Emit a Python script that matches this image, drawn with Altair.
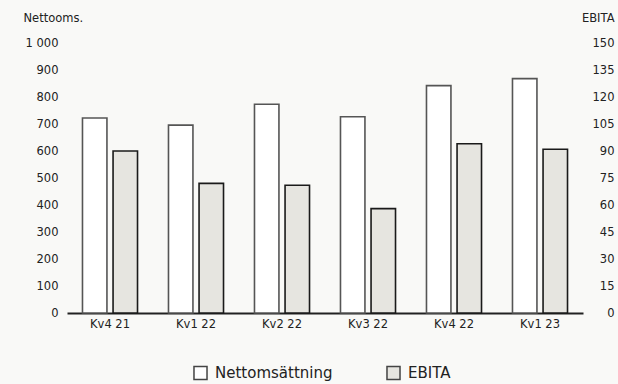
import altair as alt
import pandas as pd

# Quarterly net sales (left axis, MSEK) and EBITA (right axis, MSEK)
quarters = ["Kv4 21", "Kv1 22", "Kv2 22", "Kv3 22", "Kv4 22", "Kv1 23"]
net_sales = [722, 696, 773, 727, 842, 868]
ebita = [90, 72, 71, 58, 94, 91]
series = ["Nettomsättning", "EBITA"]

net_ticks = list(range(0, 1001, 100))
ebita_ticks = list(range(0, 151, 15))

net_df = pd.DataFrame({"quarter": quarters, "value": net_sales, "series": series[0]})
ebita_df = pd.DataFrame({"quarter": quarters, "value": ebita, "series": series[1]})

FONT = "DejaVu Sans"
INK = "#222222"
TICK_SIZE = 11.5

x_enc = alt.X(
    "quarter:N",
    sort=quarters,
    scale=alt.Scale(paddingInner=0.36, paddingOuter=0.18),
    axis=alt.Axis(
        title=None, labelAngle=0, ticks=False, domainColor=INK, domainWidth=2,
        labelFontSize=TICK_SIZE, labelColor=INK, labelPadding=5, labelFont=FONT,
    ),
)
xoff_enc = alt.XOffset(
    "series:N", sort=series,
    scale=alt.Scale(domain=series, paddingInner=0.2, paddingOuter=0),
)
fill_enc = alt.Fill(
    "series:N",
    sort=series,
    scale=alt.Scale(domain=series, range=["#ffffff", "#e6e5e0"]),
    legend=alt.Legend(
        title=None, orient="none", direction="horizontal", legendX=126, legendY=322,
        symbolType="square", symbolSize=170, symbolStrokeColor="#444444",
        symbolStrokeWidth=1.5, labelFontSize=15, labelFont=FONT, labelColor=INK,
        labelOffset=7, columnPadding=50,
    ),
)

net_bars = alt.Chart(net_df).mark_bar(stroke="#555555", strokeWidth=1.6).encode(
    x=x_enc,
    xOffset=xoff_enc,
    fill=fill_enc,
    y=alt.Y(
        "value:Q",
        scale=alt.Scale(domain=[0, 1000], nice=False),
        axis=alt.Axis(
            orient="left", values=net_ticks, grid=False, domain=False, ticks=False,
            labelPadding=9, labelFontSize=TICK_SIZE, labelFont=FONT, labelColor=INK,
            labelExpr="replace(format(datum.value, ','), ',', ' ')",
            title="Nettooms.", titleAngle=0, titleAlign="left", titleBaseline="alphabetic",
            titleX=-44, titleY=-22, titleFontSize=11.5, titleFont=FONT,
            titleFontWeight="normal", titleColor=INK,
        ),
    ),
)

ebita_bars = alt.Chart(ebita_df).mark_bar(stroke="#1a1a1a", strokeWidth=1.6).encode(
    x=x_enc,
    xOffset=xoff_enc,
    fill=fill_enc,
    y=alt.Y(
        "value:Q",
        scale=alt.Scale(domain=[0, 150], nice=False),
        axis=alt.Axis(
            orient="right", values=ebita_ticks, grid=False, domain=False, ticks=False,
            labelPadding=31, labelAlign="right", labelFontSize=TICK_SIZE, labelFont=FONT,
            labelColor=INK,
            title="EBITA", titleAngle=0, titleAlign="right", titleBaseline="alphabetic",
            titleX=31, titleY=-22, titleFontSize=11.5, titleFont=FONT,
            titleFontWeight="normal", titleColor=INK,
        ),
    ),
)

chart = (
    alt.layer(net_bars, ebita_bars)
    .resolve_scale(y="independent")
    .properties(
        width=516, height=270, background="#f9f9f7",
        autosize=alt.AutoSizeParams(type="none"),
        padding={"left": 67, "top": 43, "right": 35, "bottom": 71},
    )
    .configure_view(stroke=None)
)

chart.save("out.html", embed_options={"renderer": "svg", "actions": False})
